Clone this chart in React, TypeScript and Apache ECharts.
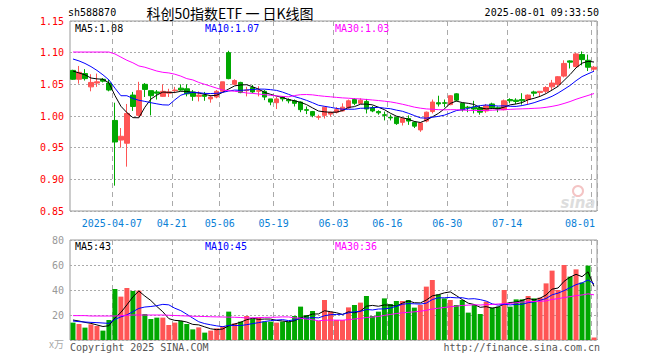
import React, { useEffect, useRef } from 'react';
import * as echarts from 'echarts';

const dates = [
  '2025-03-26', '2025-03-27', '2025-03-28', '2025-03-31', '2025-04-01', '2025-04-02', '2025-04-03', '2025-04-07',
  '2025-04-08', '2025-04-09', '2025-04-10', '2025-04-11', '2025-04-14', '2025-04-15', '2025-04-16', '2025-04-17',
  '2025-04-18', '2025-04-21', '2025-04-22', '2025-04-23', '2025-04-24', '2025-04-25', '2025-04-28', '2025-04-29',
  '2025-04-30', '2025-05-06', '2025-05-07', '2025-05-08', '2025-05-09', '2025-05-12', '2025-05-13', '2025-05-14',
  '2025-05-15', '2025-05-16', '2025-05-19', '2025-05-20', '2025-05-21', '2025-05-22', '2025-05-23', '2025-05-26',
  '2025-05-27', '2025-05-28', '2025-05-29', '2025-05-30', '2025-06-03', '2025-06-04', '2025-06-05', '2025-06-06',
  '2025-06-09', '2025-06-10', '2025-06-11', '2025-06-12', '2025-06-13', '2025-06-16', '2025-06-17', '2025-06-18',
  '2025-06-19', '2025-06-20', '2025-06-23', '2025-06-24', '2025-06-25', '2025-06-26', '2025-06-27', '2025-06-30',
  '2025-07-01', '2025-07-02', '2025-07-03', '2025-07-04', '2025-07-07', '2025-07-08', '2025-07-09', '2025-07-10',
  '2025-07-11', '2025-07-14', '2025-07-15', '2025-07-16', '2025-07-17', '2025-07-18', '2025-07-21', '2025-07-22',
  '2025-07-23', '2025-07-24', '2025-07-25', '2025-07-28', '2025-07-29', '2025-07-30', '2025-07-31', '2025-08-01',
];

const opens = [
  1.072, 1.058, 1.067, 1.046, 1.052, 1.058, 1.052, 0.993, 0.962, 0.957, 1.033, 1.001, 1.050, 1.040, 1.038, 1.031,
  1.036, 1.040, 1.044, 1.043, 1.038, 1.031, 1.033, 1.027, 1.030, 1.039, 1.100, 1.050, 1.053, 1.040, 1.045, 1.039,
  1.039, 1.027, 1.021, 1.030, 1.026, 1.024, 1.022, 1.010, 1.007, 0.998, 1.001, 1.003, 1.006, 1.008, 1.013, 1.026,
  1.020, 1.023, 1.013, 1.007, 1.002, 0.998, 0.998, 0.990, 0.996, 0.990, 0.978, 0.992, 1.007, 1.021, 1.021, 1.018,
  1.035, 1.020, 1.014, 1.014, 1.013, 1.008, 1.019, 1.013, 1.010, 1.026, 1.025, 1.026, 1.026, 1.038, 1.037, 1.039,
  1.046, 1.050, 1.063, 1.087, 1.078, 1.097, 1.088, 1.074,
];
const closes = [
  1.058, 1.069, 1.059, 1.053, 1.054, 1.055, 1.041, 0.959, 0.968, 1.004, 1.015, 1.040, 1.042, 1.032, 1.036, 1.039,
  1.038, 1.041, 1.041, 1.035, 1.031, 1.033, 1.031, 1.030, 1.039, 1.054, 1.059, 1.056, 1.037, 1.041, 1.038, 1.040,
  1.030, 1.022, 1.027, 1.027, 1.024, 1.020, 1.010, 1.009, 1.001, 0.999, 1.014, 1.006, 1.010, 1.014, 1.024, 1.020,
  1.025, 1.011, 1.008, 1.005, 1.001, 0.997, 0.988, 0.996, 0.992, 0.984, 0.989, 1.006, 1.022, 1.019, 1.020, 1.032,
  1.025, 1.010, 1.013, 1.011, 1.006, 1.016, 1.013, 1.011, 1.024, 1.024, 1.023, 1.024, 1.033, 1.036, 1.039, 1.045,
  1.052, 1.062, 1.083, 1.085, 1.098, 1.089, 1.077, 1.077,
];
const lows = [
  1.057, 1.051, 1.056, 1.039, 1.046, 1.053, 1.039, 0.890, 0.950, 0.920, 1.008, 0.999, 1.030, 1.001, 1.026, 1.030,
  1.030, 1.036, 1.040, 1.031, 1.024, 1.023, 1.024, 1.021, 1.028, 1.037, 1.058, 1.049, 1.036, 1.031, 1.036, 1.031,
  1.025, 1.017, 1.011, 1.023, 1.020, 1.015, 1.006, 1.003, 0.998, 0.994, 0.996, 0.999, 1.004, 1.007, 1.011, 1.017,
  1.019, 1.004, 1.006, 1.002, 0.993, 0.993, 0.986, 0.985, 0.986, 0.981, 0.975, 0.990, 1.004, 1.015, 1.014, 1.017,
  1.023, 1.007, 1.006, 1.004, 1.002, 1.005, 1.011, 1.006, 1.009, 1.020, 1.019, 1.018, 1.019, 1.031, 1.031, 1.036,
  1.041, 1.046, 1.061, 1.075, 1.077, 1.080, 1.071, 1.071,
];
const highs = [
  1.073, 1.079, 1.074, 1.066, 1.067, 1.060, 1.057, 1.021, 0.981, 1.019, 1.038, 1.054, 1.052, 1.040, 1.041, 1.050,
  1.043, 1.046, 1.050, 1.050, 1.041, 1.039, 1.038, 1.033, 1.041, 1.054, 1.103, 1.058, 1.054, 1.046, 1.049, 1.047,
  1.041, 1.027, 1.030, 1.031, 1.028, 1.026, 1.023, 1.015, 1.008, 1.002, 1.015, 1.007, 1.014, 1.020, 1.026, 1.028,
  1.028, 1.027, 1.016, 1.009, 1.007, 1.002, 0.999, 0.997, 1.001, 0.992, 0.990, 1.007, 1.026, 1.032, 1.026, 1.033,
  1.036, 1.020, 1.016, 1.024, 1.016, 1.019, 1.021, 1.015, 1.026, 1.028, 1.028, 1.036, 1.034, 1.040, 1.039, 1.047,
  1.057, 1.063, 1.088, 1.088, 1.100, 1.102, 1.097, 1.079,
];
const volumes = [
  13.9, 12.8, 9.9, 12.5, 11.2, 7.5, 16.0, 40.8, 34.7, 41.6, 39.2, 39.5, 20.8, 16.8, 17.9, 17.9,
  12.0, 13.9, 15.2, 12.8, 8.5, 10.1, 5.9, 7.5, 9.3, 11.2, 22.7, 13.3, 14.7, 19.2, 17.3, 17.9,
  14.7, 14.7, 13.9, 14.7, 14.7, 19.2, 26.7, 20.0, 23.2, 15.2, 32.0, 22.7, 16.0, 16.0, 26.1, 28.0,
  29.9, 35.2, 19.2, 22.7, 33.3, 28.8, 31.2, 31.2, 32.0, 25.9, 28.0, 42.7, 48.0, 36.5, 33.3, 32.0,
  28.0, 32.0, 21.9, 28.0, 20.8, 30.7, 25.9, 26.7, 40.0, 26.7, 32.5, 32.5, 35.2, 33.3, 33.9, 45.3,
  55.5, 40.0, 60.0, 50.7, 56.5, 46.0, 59.5, 2.0,
];

// moving-average values before enough days are in view
const ma5Head = [1.071, 1.068, 1.065, 1.060];
const ma10Head = [1.090, 1.087, 1.083, 1.078, 1.072, 1.065, 1.057, 1.044, 1.032];
const ma30Head = [
  1.101, 1.101, 1.101, 1.101, 1.101, 1.101, 1.101, 1.098, 1.093, 1.088, 1.084, 1.079, 1.077, 1.074, 1.071,
  1.069, 1.068, 1.066, 1.063, 1.059, 1.057, 1.053, 1.050, 1.047, 1.044, 1.041, 1.040, 1.039, 1.038,
];
const vma5Head = [16.0, 15.2, 14.1, 13.3];
const vma10Head = [15.2, 14.7, 14.4, 14.1, 13.9, 13.6, 13.3, 16.5, 18.5];
const vma30Head = [
  19.5, 19.5, 19.5, 19.2, 19.2, 19.2, 19.2, 19.2, 19.5, 19.8, 20.0, 20.0, 20.0, 20.0, 20.0,
  20.0, 19.8, 19.6, 19.4, 19.2, 19.0, 18.9, 18.8, 18.6, 18.5, 18.4, 18.3, 18.2, 18.0,
];

const tickDates = ['2025-04-07', '2025-04-21', '2025-05-06', '2025-05-19', '2025-06-03', '2025-06-16', '2025-06-30', '2025-07-14', '2025-08-01'];
const priceLegend = ['MA5:1.08', 'MA10:1.07', 'MA30:1.03'];
const volumeLegend = ['MA5:43', 'MA10:45', 'MA30:36'];

const RED = '#ff5555';
const GREEN = '#00a800';
const MONO = 'DejaVu Sans Mono';

function movingAverage(values: number[], n: number, head: number[]) {
  return values.map((_, i) => {
    if (i < n - 1) return head[i];
    let s = 0;
    for (let k = i - n + 1; k <= i; k++) s += values[k];
    return +(s / n).toFixed(4);
  });
}

const isTick = (i: number) => tickDates.includes(dates[i]);

export default function App() {
  const ref = useRef<HTMLDivElement>(null);
  useEffect(() => {
    if (!ref.current) return;
    const chart = echarts.init(ref.current, null, { renderer: 'svg' });

    const candleData = dates.map((_, i) => [opens[i], closes[i], lows[i], highs[i]]);
    const volData = volumes.map((v, i) => ({ value: v, itemStyle: { color: closes[i] >= opens[i] ? RED : GREEN } }));
    const ma5 = movingAverage(closes, 5, ma5Head);
    const ma10 = movingAverage(closes, 10, ma10Head);
    const ma30 = movingAverage(closes, 30, ma30Head);
    const vma5 = movingAverage(volumes, 5, vma5Head);
    const vma10 = movingAverage(volumes, 10, vma10Head);
    const vma30 = movingAverage(volumes, 30, vma30Head);

    const vSplit = { show: true, interval: (i: number) => isTick(i), lineStyle: { color: '#aaaaaa', type: [5, 4], width: 1 } };
    const hSplit = { show: true, lineStyle: { color: '#aaaaaa', type: [2, 2], width: 1 } };

    const lineSeries = (data: number[], color: string, xi: number) => ({
      type: 'line', data, xAxisIndex: xi, yAxisIndex: xi, symbol: 'none', z: 4,
      lineStyle: { color, width: 1 }, itemStyle: { color }, silent: true,
    });

    const txt = (text: string, x: number, y: number, color: string, opts: any = {}) => ({
      type: 'text', x, y, z: 100,
      style: { text, fill: color, fontFamily: MONO, fontSize: 10, verticalAlign: 'middle', align: 'left', ...opts },
    });

    const lastTick = tickDates[tickDates.length - 1];

    chart.setOption({
      animation: false,
      backgroundColor: '#ffffff',
      grid: [
        { left: 70, right: 63, top: 21, height: 190, show: true, borderColor: '#999999', borderWidth: 1 },
        { left: 70, right: 63, top: 240, height: 100, show: true, borderColor: '#999999', borderWidth: 1 },
      ],
      xAxis: [
        {
          type: 'category', gridIndex: 0, data: dates, boundaryGap: true,
          axisLine: { show: false }, axisTick: { show: false },
          axisLabel: {
            interval: (i: number) => isTick(i),
            formatter: (v: string) => (v === tickDates[0] ? v : v === lastTick ? '{last|' + v.slice(5) + '}' : v.slice(5)),
            color: '#0a7fd6', fontFamily: MONO, fontSize: 10, margin: 7, padding: [0, 6, 0, 0],
            rich: { last: { color: '#0a7fd6', fontFamily: MONO, fontSize: 10, padding: [0, 22, 0, 0] } },
          },
          splitLine: vSplit,
        },
        {
          type: 'category', gridIndex: 1, data: dates, boundaryGap: true,
          axisLine: { show: false }, axisTick: { show: false }, axisLabel: { show: false },
          splitLine: vSplit,
        },
      ],
      yAxis: [
        {
          type: 'value', gridIndex: 0, min: 0.85, max: 1.15, interval: 0.05,
          axisLine: { show: false }, axisTick: { show: false },
          axisLabel: { color: '#ff0000', fontFamily: MONO, fontSize: 10, margin: 6, formatter: (v: number) => v.toFixed(2) },
          splitLine: hSplit,
        },
        {
          type: 'value', gridIndex: 1, min: 0, max: 80, interval: 20,
          axisLine: { show: false }, axisTick: { show: false },
          axisLabel: { color: '#999999', fontFamily: MONO, fontSize: 10, margin: 6, formatter: (v: number) => (v === 0 ? '' : String(v)) },
          splitLine: hSplit,
        },
      ],
      series: [
        {
          type: 'candlestick', xAxisIndex: 0, yAxisIndex: 0, data: candleData, barWidth: 5, z: 3,
          itemStyle: { color: RED, color0: GREEN, borderColor: RED, borderColor0: GREEN, borderColorDoji: RED, borderWidth: 1 },
        },
        lineSeries(ma5, '#000000', 0),
        lineSeries(ma10, '#0000ff', 0),
        lineSeries(ma30, '#ff00ff', 0),
        { type: 'bar', xAxisIndex: 1, yAxisIndex: 1, data: volData, barWidth: 5, z: 3 },
        lineSeries(vma5, '#000000', 1),
        lineSeries(vma10, '#0000ff', 1),
        lineSeries(vma30, '#ff00ff', 1),
      ],
      graphic: [
        txt('sh588870', 68, 12, '#000000'),
        {
          type: 'text', x: 230, y: 13, z: 100,
          style: { text: '科创50指数ETF 一 日K线图', fill: '#000000', fontFamily: 'Noto Sans CJK SC', fontSize: 14, align: 'center', verticalAlign: 'middle' },
        },
        txt('2025-08-01 09:33:50', 599, 12, '#000000', { align: 'right' }),
        txt(priceLegend[0], 75, 28, '#000000'),
        txt(priceLegend[1], 205, 28, '#0000ff'),
        txt(priceLegend[2], 335, 28, '#ff00ff'),
        txt(volumeLegend[0], 75, 246, '#000000'),
        txt(volumeLegend[1], 205, 246, '#0000ff'),
        txt(volumeLegend[2], 335, 246, '#ff00ff'),
        {
          type: 'text', x: 49, y: 343, z: 100,
          style: { text: 'x万', fill: '#aaaaaa', fontFamily: 'Noto Sans CJK SC', fontSize: 10, verticalAlign: 'middle' },
        },
        txt('Copyright 2025 SINA.COM', 70, 347, '#555555'),
        txt('http://finance.sina.com.cn', 600, 347, '#555555', { align: 'right' }),
        {
          type: 'circle', z: 90, shape: { cx: 578, cy: 191, r: 5 },
          style: { fill: 'none', stroke: '#f4c4c4', lineWidth: 2 },
        },
        {
          type: 'text', x: 578, y: 203, z: 90,
          style: { text: 'sina', fill: '#dddddd', fontFamily: 'DejaVu Sans', fontSize: 15, fontWeight: 'bold', fontStyle: 'italic', align: 'center', verticalAlign: 'middle' },
        },
      ],
    });
    return () => chart.dispose();
  }, []);
  return <div ref={ref} style={{ position: 'absolute', left: 0, top: 0, width: 660, height: 360 }} />;
}
